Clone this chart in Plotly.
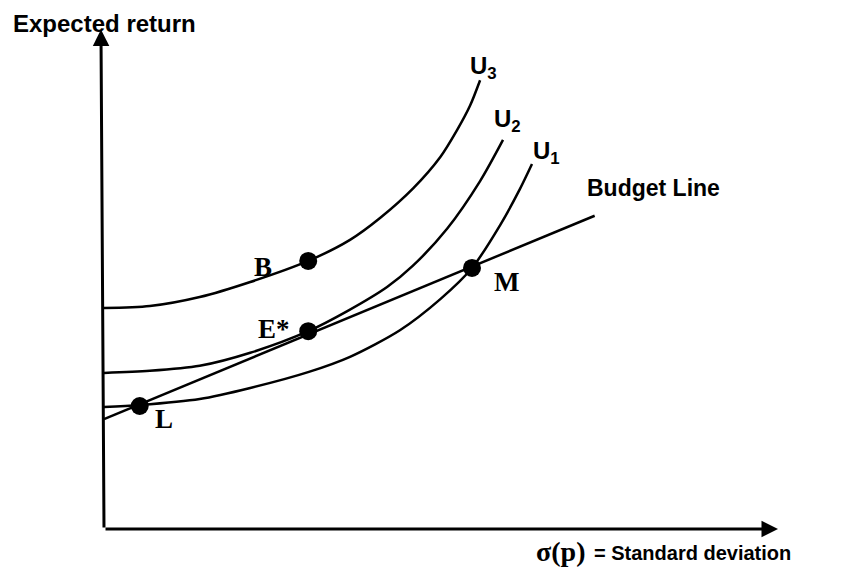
import plotly.graph_objects as go

# ---- data (sigma = standard deviation, ret = expected return) ----
u3_sigma = [0, 0.68, 1.42, 2.17, 3.03, 3.65, 4.10, 4.59, 4.99, 5.24, 5.43, 5.58]
u3_ret   = [4.40, 4.44, 4.62, 4.92, 5.34, 5.76, 6.20, 6.79, 7.41, 7.95, 8.43, 8.94]

u2_sigma = [0, 0.68, 1.42, 2.17, 3.03, 3.61, 4.20, 4.58, 5.09, 5.58, 5.92]
u2_ret   = [3.11, 3.15, 3.25, 3.51, 3.94, 4.34, 4.82, 5.24, 5.98, 6.93, 7.75]

u1_sigma = [0, 0.53, 1.42, 2.17, 3.04, 3.65, 4.39, 4.99, 5.46, 5.88, 6.17, 6.35]
u1_ret   = [2.43, 2.47, 2.59, 2.81, 3.13, 3.43, 3.96, 4.58, 5.20, 6.06, 6.77, 7.27]

budget_sigma = [0, 7.28]
budget_ret   = [2.19, 6.24]

point_names = ["B", "E*", "L", "M"]
point_sigma = [3.03, 3.03, 0.53, 5.46]
point_ret   = [5.34, 3.94, 2.45, 5.20]

axis_sigma_end = 10
axis_ret_end = 9.95

OFF = 8                    # page body margin
W, H = 863 - OFF, 571 - OFF
X0, Y0 = 104 - OFF, 529 - OFF   # pixel position of the origin inside the figure
SX, SY = 67.4, 50.2        # pixels per data unit

fig = go.Figure()
line_style = dict(color="black", width=2.5, shape="spline", smoothing=0.8)
for xs, ys in [(u3_sigma, u3_ret), (u2_sigma, u2_ret), (u1_sigma, u1_ret)]:
    fig.add_trace(go.Scatter(x=xs, y=ys, mode="lines", line=line_style,
                             hoverinfo="skip", showlegend=False))
fig.add_trace(go.Scatter(x=budget_sigma, y=budget_ret, mode="lines",
                         line=dict(color="black", width=2.5),
                         hoverinfo="skip", showlegend=False))
fig.add_trace(go.Scatter(x=point_sigma, y=point_ret, mode="markers",
                         marker=dict(color="black", size=18),
                         hoverinfo="skip", showlegend=False))

# axes drawn as arrows
fig.add_annotation(x=axis_sigma_end, y=0, ax=0, ay=0, xref="x", yref="y",
                   axref="x", ayref="y", text="", showarrow=True, arrowhead=2,
                   arrowsize=1.1, arrowwidth=3, arrowcolor="black", standoff=0)
fig.add_annotation(x=-0.045, y=axis_ret_end, ax=0, ay=0, xref="x", yref="y",
                   axref="x", ayref="y", text="", showarrow=True, arrowhead=2,
                   arrowsize=1.1, arrowwidth=3, arrowcolor="black", standoff=0)

def label(px, py, text, size, family, xanchor="center", yanchor="middle"):
    fig.add_annotation(x=(px - OFF) / W, y=1 - (py - OFF) / H, xref="paper", yref="paper",
                       text=text, showarrow=False, xanchor=xanchor, yanchor=yanchor,
                       font=dict(size=size, family=family, color="black"))

sans = "Liberation Sans, Arial, sans-serif"
serif = "Liberation Serif, Times New Roman, serif"

label(11, 8, "<b>Expected return</b>", 24, sans, xanchor="left", yanchor="top")
label(483, 68, "<b>U<sub>3</sub></b>", 24, sans)
label(507, 121, "<b>U<sub>2</sub></b>", 24, sans)
label(546, 153, "<b>U<sub>1</sub></b>", 24, sans)
label(585, 188, "<b>Budget Line</b>", 23, sans, xanchor="left")
label(263, 267, "<b>B</b>", 27, serif)
label(274, 329, "<b>E*</b>", 27, serif)
label(164, 419, "<b>L</b>", 27, serif)
label(506, 282, "<b>M</b>", 27, serif)
label(560, 551, "<b>σ(p)</b>", 28, serif)
label(592, 553, "<b>= Standard deviation</b>", 20, sans, xanchor="left")

fig.update_xaxes(range=[-X0 / SX, (W - X0) / SX], visible=False, fixedrange=True)
fig.update_yaxes(range=[(Y0 - H) / SY, Y0 / SY], visible=False, fixedrange=True)
fig.update_layout(width=W, height=H, margin=dict(l=0, r=0, t=0, b=0),
                  plot_bgcolor="white", paper_bgcolor="white")

fig.write_html("out.html")
